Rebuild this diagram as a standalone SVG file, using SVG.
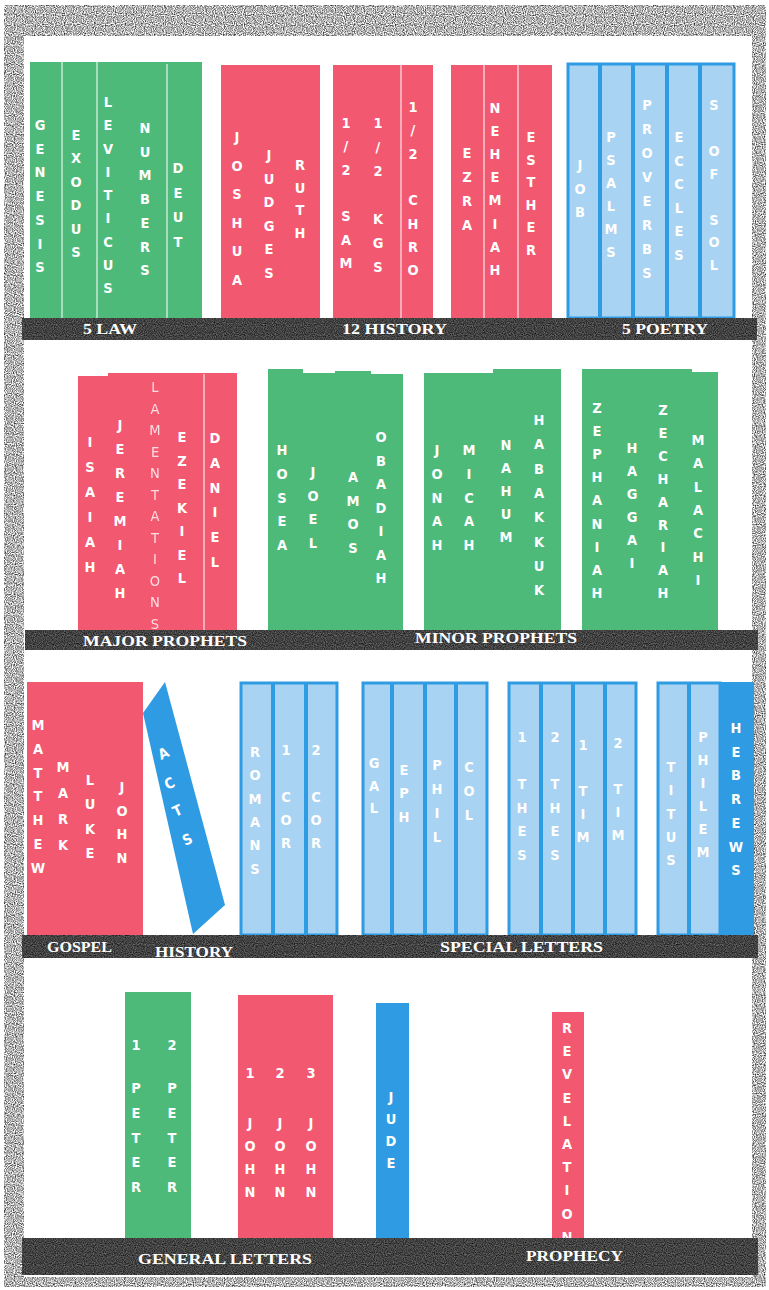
<svg xmlns="http://www.w3.org/2000/svg" width="769" height="1290" viewBox="0 0 769 1290">
<style>
.g{fill:#4dba7a}.r{fill:#f2586f}.b{fill:#2e9be2}
.lb{fill:#a8d3f3;stroke:#2e9be2;stroke-width:3}
.dv{stroke:#fff;stroke-width:1.2;opacity:.85}
.bd{stroke:#2e9be2;stroke-width:4}
.bar{fill:#3d3d3d}
.sp{font-family:"DejaVu Sans Condensed","DejaVu Sans","Liberation Sans",sans-serif;font-weight:bold;font-size:14.5px;fill:#fff;text-anchor:middle}
.thin{font-weight:normal;opacity:.8}
.lbl{font-family:"Liberation Serif",serif;font-weight:bold;font-size:15px;fill:#fff}
</style>
<defs>
<filter id="grain" x="0" y="0" width="1" height="1" color-interpolation-filters="sRGB">
<feTurbulence type="fractalNoise" baseFrequency="0.9" numOctaves="1" seed="4"/>
<feColorMatrix type="matrix" values="1.8 0 0 0 -0.2  1.8 0 0 0 -0.2  1.8 0 0 0 -0.2  0 0 0 0 1"/>
</filter>
<filter id="grainDark" x="0" y="0" width="1" height="1" color-interpolation-filters="sRGB">
<feTurbulence type="fractalNoise" baseFrequency="0.9" numOctaves="1" seed="7"/>
<feColorMatrix type="matrix" values="0.6 0 0 0 -0.04  0.6 0 0 0 -0.04  0.6 0 0 0 -0.04  0 0 0 0 1"/>
</filter>
</defs>
<rect width="769" height="1290" fill="#fff"/>
<rect id="frame" x="4" y="5" width="762" height="1282" fill="#999" filter="url(#grain)"/>
<rect x="24" y="36" width="728" height="1241" fill="#fff"/>

<!-- SHELF 1 -->
<g id="law">
<rect class="g" x="30" y="62" width="172" height="256"/>
<line class="dv" x1="62" y1="62" x2="62" y2="318"/><line class="dv" x1="97" y1="62" x2="97" y2="318"/><line class="dv" x1="167" y1="64" x2="167" y2="318"/>
<text class="sp" x="40 40 40 40 40 40 40" y="130 153.7 177.4 201.1 224.8 248.5 272.2">GENESIS</text>
<text class="sp" x="76 76 76 76 76 76" y="140 163.4 186.8 210.2 233.6 257">EXODUS</text>
<text class="sp" x="108 108 108 108 108 108 108 108 108" y="107 130.25 153.5 176.75 200 223.25 246.5 269.75 293">LEVITICUS</text>
<text class="sp" x="145 145 145 145 145 145 145" y="133 156.7 180.4 204.1 227.8 251.5 275.2">NUMBERS</text>
<text class="sp" x="178 178 178 178" y="173 197.7 222.4 247.1">DEUT</text>
</g>
<g id="history1">
<rect class="r" x="221" y="65" width="99" height="253"/>
<text class="sp" x="237 237 237 237 237 237" y="142 170.6 199.2 227.8 256.4 285">JOSHUA</text>
<text class="sp" x="269 269 269 269 269 269" y="160 183.6 207.2 230.8 254.4 278">JUDGES</text>
<text class="sp" x="300 300 300 300" y="170 192.7 215.4 238.1">RUTH</text>
</g>
<g id="history2">
<rect class="r" x="333" y="65" width="100" height="253"/>
<line class="dv" x1="401" y1="65" x2="401" y2="318"/>
<text class="sp" x="346 346 346 346 346 346 346" y="128 151.3 174.6 197.9 221.2 244.5 267.8">1/2 SAM</text>
<text class="sp" x="378 378 378 378 378 378 378" y="128 152 176 200 224 248 272">1/2 KGS</text>
<text class="sp" x="413 413 413 413 413 413 413 413" y="112 135.3 158.6 181.9 205.2 228.5 251.8 275.1">1/2 CHRO</text>
</g>
<g id="history3">
<rect class="r" x="451" y="65" width="101" height="253"/>
<line class="dv" x1="484" y1="64" x2="484" y2="318"/><line class="dv" x1="518" y1="64" x2="518" y2="318"/>
<text class="sp" x="467 467 467 467" y="158 182 206 230">EZRA</text>
<text class="sp" x="495 495 495 495 495 495 495 495" y="113 136.1 159.2 182.3 205.4 228.5 251.6 274.7">NEHEMIAH</text>
<text class="sp" x="531 531 531 531 531 531" y="142 164.6 187.2 209.8 232.4 255">ESTHER</text>
</g>
<g id="poetry">
<rect class="lb" x="568" y="64" width="166" height="254"/>
<line class="bd" x1="600" y1="64" x2="600" y2="318"/><line class="bd" x1="633" y1="64" x2="633" y2="318"/><line class="bd" x1="667" y1="64" x2="667" y2="318"/><line class="bd" x1="700" y1="64" x2="700" y2="318"/>
<text class="sp" x="580 580 580" y="170 193.5 217">JOB</text>
<text class="sp" x="611 611 611 611 611 611" y="142 165 188 211 234 257">PSALMS</text>
<text class="sp" x="647 647 647 647 647 647 647 647" y="110 134 158 182 206 230 254 278">PROVERBS</text>
<text class="sp" x="679 679 679 679 679 679" y="142 165.6 189.2 212.8 236.4 260">ECCLES</text>
<text class="sp" x="714 714 714 714 714 714 714 714" y="110 132.9 155.8 178.7 201.6 224.5 247.4 270.3">S OF SOL</text>
</g>

<!-- SHELF 2 -->
<g id="major-prophets">
<rect class="r" x="78" y="376" width="31" height="254"/>
<rect class="r" x="108" y="373" width="129" height="257"/>
<line class="dv" x1="204" y1="374" x2="204" y2="630"/>
<text class="sp" x="90 90 90 90 90 90" y="447 472 497 522 547 572">ISAIAH</text>
<text class="sp" x="120 120 120 120 120 120 120 120" y="430 454 478 502 526 550 574 598">JEREMIAH</text>
<text class="sp thin" x="155 155 155 155 155 155 155 155 155 155 155 155" y="392 413.5 435 456.5 478 499.5 521 542.5 564 585.5 607 628.5">LAMENTATIONS</text>
<text class="sp" x="182 182 182 182 182 182 182" y="442 465.5 489 512.5 536 559.5 583">EZEKIEL</text>
<text class="sp" x="215 215 215 215 215 215" y="443 467.8 492.6 517.4 542.2 567">DANIEL</text>
</g>
<g id="minor1">
<rect class="g" x="268" y="369" width="35" height="261"/>
<rect class="g" x="302" y="373" width="34" height="257"/>
<rect class="g" x="335" y="371" width="36" height="259"/>
<rect class="g" x="370" y="374" width="33" height="256"/>
<text class="sp" x="282 282 282 282 282" y="455 478.75 502.5 526.25 550">HOSEA</text>
<text class="sp" x="313 313 313 313" y="477 500.7 524.4 548.1">JOEL</text>
<text class="sp" x="353 353 353 353" y="482 505.7 529.4 553.1">AMOS</text>
<text class="sp" x="381 381 381 381 381 381 381" y="442 465.5 489 512.5 536 559.5 583">OBADIAH</text>
</g>
<g id="minor2">
<rect class="g" x="424" y="373" width="70" height="257"/>
<rect class="g" x="493" y="369" width="68" height="261"/>
<text class="sp" x="437 437 437 437 437" y="455 478.75 502.5 526.25 550">JONAH</text>
<text class="sp" x="469 469 469 469 469" y="455 478.75 502.5 526.25 550">MICAH</text>
<text class="sp" x="506 506 506 506 506" y="450 473 496 519 542">NAHUM</text>
<text class="sp" x="539 539 539 539 539 539 539 539" y="425 449.3 473.6 497.9 522.2 546.5 570.8 595.1">HABAKKUK</text>
</g>
<g id="minor3">
<rect class="g" x="582" y="369" width="110" height="261"/>
<rect class="g" x="690" y="372" width="28" height="258"/>
<text class="sp" x="597 597 597 597 597 597 597 597 597" y="413 436.1 459.2 482.3 505.4 528.5 551.6 574.7 597.8">ZEPHANIAH</text>
<text class="sp" x="632 632 632 632 632 632" y="453 476 499 522 545 568">HAGGAI</text>
<text class="sp" x="663 663 663 663 663 663 663 663 663" y="415 437.9 460.8 483.7 506.6 529.5 552.4 575.3 598.2">ZECHARIAH</text>
<text class="sp" x="698 698 698 698 698 698 698" y="445 468.3 491.6 514.9 538.2 561.5 584.8">MALACHI</text>
</g>

<!-- SHELF 3 -->
<g id="gospels">
<rect class="r" x="27" y="682" width="116" height="253"/>
<text class="sp" x="38 38 38 38 38 38 38" y="730 753.8 777.6 801.4 825.2 849 872.8">MATTHEW</text>
<text class="sp" x="63 63 63 63" y="772 798 824 850">MARK</text>
<text class="sp" x="90 90 90 90" y="785 809.4 833.8 858.2">LUKE</text>
<text class="sp" x="122 122 122 122" y="792 815.7 839.4 863.1">JOHN</text>
</g>
<g id="acts">
<polygon class="b" points="165,682 225,905 193,934 143,713"/>
<text class="sp" x="166 172 180 190" y="760 790 817 846" rotate="-25 -25 -25 -25">ACTS</text>
</g>
<g id="letters1">
<rect class="lb" x="241" y="683" width="96" height="252"/>
<line class="bd" x1="273" y1="683" x2="273" y2="935"/><line class="bd" x1="306" y1="683" x2="306" y2="935"/>
<text class="sp" x="255 255 255 255 255 255" y="757 780.3 803.6 826.9 850.2 873.5">ROMANS</text>
<text class="sp" x="286 286 286 286 286" y="755 778.3 801.6 824.9 848.2">1 COR</text>
<text class="sp" x="316 316 316 316 316" y="755 778.3 801.6 824.9 848.2">2 COR</text>
</g>
<g id="letters2">
<rect class="lb" x="363" y="683" width="124" height="252"/>
<line class="bd" x1="392" y1="683" x2="392" y2="935"/><line class="bd" x1="425" y1="683" x2="425" y2="935"/><line class="bd" x1="456" y1="683" x2="456" y2="935"/>
<text class="sp" x="374 374 374" y="768 790.5 813">GAL</text>
<text class="sp" x="404 404 404" y="775 798.3 821.6">EPH</text>
<text class="sp" x="437 437 437 437" y="770 794 818 842">PHIL</text>
<text class="sp" x="469 469 469" y="772 796 820">COL</text>
</g>
<g id="letters3">
<rect class="lb" x="509" y="683" width="127" height="252"/>
<line class="bd" x1="541" y1="683" x2="541" y2="935"/><line class="bd" x1="573" y1="683" x2="573" y2="935"/><line class="bd" x1="605" y1="683" x2="605" y2="935"/>
<text class="sp" x="522 522 522 522 522 522" y="742 765.6 789.2 812.8 836.4 860">1 THES</text>
<text class="sp" x="555 555 555 555 555 555" y="742 765.6 789.2 812.8 836.4 860">2 THES</text>
<text class="sp" x="583 583 583 583 583" y="750 773 796 819 842">1 TIM</text>
<text class="sp" x="618 618 618 618 618" y="748 771 794 817 840">2 TIM</text>
</g>
<g id="letters4">
<rect class="lb" x="658" y="683" width="62" height="252"/>
<line class="bd" x1="689" y1="683" x2="689" y2="935"/>
<rect class="b" x="719" y="682" width="35" height="253"/>
<text class="sp" x="671 671 671 671 671" y="772 795.3 818.6 841.9 865.2">TITUS</text>
<text class="sp" x="703 703 703 703 703 703" y="742 765 788 811 834 857">PHILEM</text>
<text class="sp" x="736 736 736 736 736 736 736" y="733 756.7 780.4 804.1 827.8 851.5 875.2">HEBREWS</text>
</g>

<!-- SHELF 4 -->
<g id="peter">
<rect class="g" x="125" y="992" width="66" height="246"/>
<text class="sp" x="136 136 136 136 136 136 136" y="1050 1071 1093 1117.75 1142.5 1167.25 1192">1 PETER</text>
<text class="sp" x="172 172 172 172 172 172 172" y="1050 1071 1093 1117.75 1142.5 1167.25 1192">2 PETER</text>
</g>
<g id="john">
<rect class="r" x="238" y="995" width="95" height="243"/>
<text class="sp" x="250 250 250 250 250 250" y="1078 1100 1128 1151 1174 1197">1 JOHN</text>
<text class="sp" x="280 280 280 280 280 280" y="1078 1100 1128 1151 1174 1197">2 JOHN</text>
<text class="sp" x="311 311 311 311 311 311" y="1078 1100 1128 1151 1174 1197">3 JOHN</text>
</g>
<g id="jude">
<rect class="b" x="376" y="1003" width="33" height="235"/>
<text class="sp" x="391 391 391 391" y="1102 1124 1146 1168">JUDE</text>
</g>
<g id="revelation">
<rect class="r" x="552" y="1012" width="32" height="226"/>
<text class="sp" x="567 567 567 567 567 567 567 567 567 567" y="1033 1056.2 1079.4 1102.6 1125.8 1149 1172.2 1195.4 1218.6 1241.8">REVELATION</text>
</g>

<!-- SHELVES -->
<g id="shelves">
<rect class="bar" x="22" y="318" width="735" height="22" filter="url(#grainDark)"/>
<rect class="bar" x="25" y="630" width="733" height="20" filter="url(#grainDark)"/>
<rect class="bar" x="22" y="935" width="736" height="23" filter="url(#grainDark)"/>
<rect class="bar" x="22" y="1238" width="736" height="37" filter="url(#grainDark)"/>
<text class="lbl" x="83" y="334" textLength="54" lengthAdjust="spacingAndGlyphs">5 LAW</text>
<text class="lbl" x="342" y="334" textLength="105" lengthAdjust="spacingAndGlyphs">12 HISTORY</text>
<text class="lbl" x="622" y="334" textLength="86" lengthAdjust="spacingAndGlyphs">5 POETRY</text>
<text class="lbl" x="83" y="646" textLength="164" lengthAdjust="spacingAndGlyphs">MAJOR PROPHETS</text>
<text class="lbl" x="415" y="643" textLength="162" lengthAdjust="spacingAndGlyphs">MINOR PROPHETS</text>
<text class="lbl" x="47" y="952" textLength="65" lengthAdjust="spacingAndGlyphs">GOSPEL</text>
<text class="lbl" x="155" y="957" textLength="78" lengthAdjust="spacingAndGlyphs">HISTORY</text>
<text class="lbl" x="440" y="952" textLength="163" lengthAdjust="spacingAndGlyphs">SPECIAL LETTERS</text>
<text class="lbl" x="138" y="1264" font-size="18" textLength="174" lengthAdjust="spacingAndGlyphs">GENERAL LETTERS</text>
<text class="lbl" x="526" y="1261" font-size="17" textLength="97" lengthAdjust="spacingAndGlyphs">PROPHECY</text>
</g>
</svg>
